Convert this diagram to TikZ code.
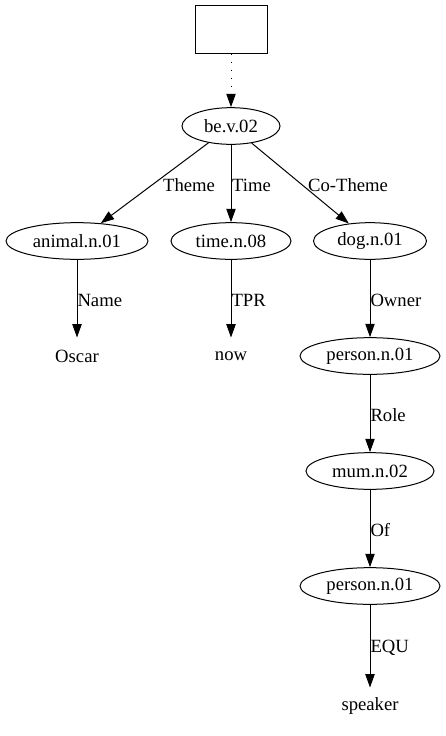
\documentclass[tikz,border=0pt]{standalone}
\usepackage{fontspec}
\setmainfont{Liberation Serif}
\usetikzlibrary{shapes.geometric,arrows.meta}
\begin{document}
\begin{tikzpicture}[x=0.75pt,y=-0.75pt,
  font=\fontsize{14pt}{16pt}\selectfont,
  ell/.style={draw,ellipse,inner sep=0pt,minimum height=27.5pt},
  txt/.style={inner sep=0pt,minimum height=27pt,minimum width=40pt},
  edge/.style={-{Triangle[length=10pt,width=7pt]},line width=0.75pt},
  lbl/.style={anchor=west,inner sep=0pt,pos=0.5,yshift=-1.5pt},
  every path/.style={line width=0.75pt}]
\useasboundingbox (0,0) rectangle (446,736);
\node[draw,rectangle,minimum width=54pt,minimum height=36pt,inner sep=0pt] (top) at (231,29) {};
\node[ell,minimum width=73.5pt] (be) at (231,126) {be.v.02};
\node[ell,minimum width=106.5pt] (animal) at (77,241) {animal.n.01};
\node[ell,minimum width=90pt] (time) at (231,241) {time.n.08};
\node[ell,minimum width=84.75pt] (dog) at (370,241) {dog.n.01};
\node[txt] (oscar) at (77,356) {Oscar};
\node[txt] (now) at (231,356) {now};
\node[ell,minimum width=105pt] (person1) at (370,356) {person.n.01};
\node[ell,minimum width=96pt] (mum) at (370,471) {mum.n.02};
\node[ell,minimum width=105pt] (person2) at (370,586) {person.n.01};
\node[txt] (speaker) at (370,706) {speaker};

\draw[edge,dash pattern=on 1pt off 5pt] (top) -- (be);
\draw[edge] (be) -- (animal) node[lbl,xshift=6pt] {Theme};
\draw[edge] (be) -- (time) node[lbl,xshift=0.5pt] {Time};
\draw[edge] (be) -- (dog) node[lbl,xshift=5.5pt] {Co-Theme};
\draw[edge] (animal) -- (oscar) node[lbl] {Name};
\draw[edge] (time) -- (now) node[lbl] {TPR};
\draw[edge] (dog) -- (person1) node[lbl] {Owner};
\draw[edge] (person1) -- (mum) node[lbl] {Role};
\draw[edge] (mum) -- (person2) node[lbl] {Of};
\draw[edge] (person2) -- (speaker) node[lbl] {EQU};
\end{tikzpicture}
\end{document}
